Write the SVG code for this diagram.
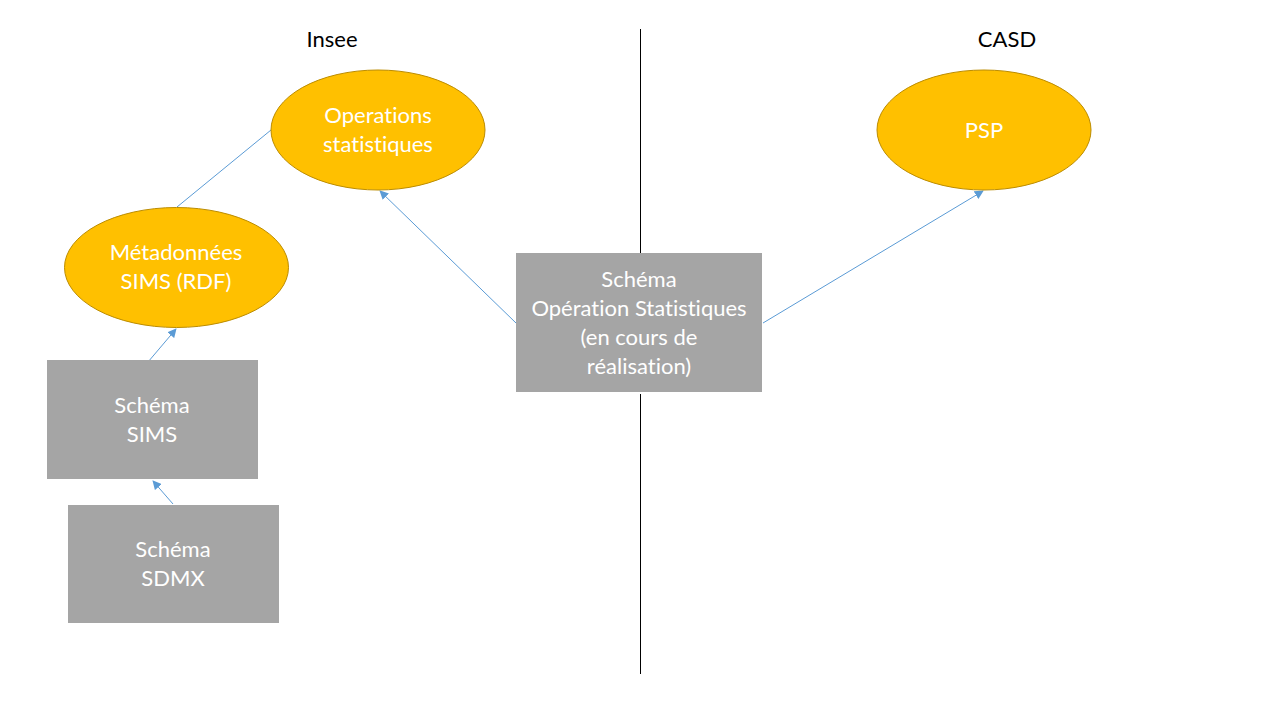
<svg xmlns="http://www.w3.org/2000/svg" width="1280" height="720" viewBox="0 0 1280 720">
<defs>
<style>
.ell{fill:#FFC000;stroke:#BC8C00;stroke-width:1}
.box{fill:#A5A5A5}
.t{font-family:Lato,"Open Sans","Liberation Sans",sans-serif;font-size:22px;fill:#FFFFFF;text-anchor:middle;font-variant-ligatures:none}
.h{font-family:Lato,"Open Sans","Liberation Sans",sans-serif;font-size:22px;fill:#000000;text-anchor:middle;font-variant-ligatures:none}
.c{stroke:#5B9BD5;stroke-width:1;fill:none}
</style>
<marker id="arr" viewBox="0 0 10 10" refX="9" refY="5" markerWidth="9" markerHeight="9" markerUnits="userSpaceOnUse" orient="auto">
<path d="M0,0 L10,5 L0,10 z" fill="#5B9BD5"/>
</marker>
</defs>
<rect width="1280" height="720" fill="#FFFFFF"/>
<g id="divider">
<line x1="640.5" y1="29" x2="640.5" y2="253" stroke="#000" stroke-width="1"/>
<line x1="640.5" y1="394" x2="640.5" y2="674" stroke="#000" stroke-width="1"/>
</g>
<g id="headers">
<text class="h" x="332" y="47">Insee</text>
<text class="h" x="1007" y="47">CASD</text>
</g>
<g id="connectors">
<line class="c" x1="177" y1="207" x2="271" y2="130"/>
<line class="c" x1="516" y1="323" x2="380" y2="191" marker-end="url(#arr)"/>
<line class="c" x1="763" y1="323" x2="983" y2="191" marker-end="url(#arr)"/>
<line class="c" x1="148" y1="362" x2="176" y2="329" marker-end="url(#arr)"/>
<line class="c" x1="173" y1="504" x2="153" y2="481" marker-end="url(#arr)"/>
</g>
<g id="operations">
<ellipse class="ell" cx="378" cy="130" rx="107" ry="60"/>
<text class="t" x="378" y="123">Operations</text>
<text class="t" x="378" y="152">statistiques</text>
</g>
<g id="metadonnees">
<ellipse class="ell" cx="176.5" cy="267.5" rx="112" ry="60"/>
<text class="t" x="176" y="260">Métadonnées</text>
<text class="t" x="176" y="289">SIMS (RDF)</text>
</g>
<g id="psp">
<ellipse class="ell" cx="984" cy="130" rx="107" ry="60"/>
<text class="t" x="984" y="138">PSP</text>
</g>
<g id="schema-sims">
<rect class="box" x="47" y="360" width="211" height="119"/>
<text class="t" x="152" y="413">Schéma</text>
<text class="t" x="152" y="442">SIMS</text>
</g>
<g id="schema-sdmx">
<rect class="box" x="68" y="505" width="211" height="118"/>
<text class="t" x="173" y="557">Schéma</text>
<text class="t" x="173" y="586">SDMX</text>
</g>
<g id="schema-operation">
<rect class="box" x="516" y="253" width="246" height="139"/>
<text class="t" x="639" y="287">Schéma</text>
<text class="t" x="639" y="316">Opération Statistiques</text>
<text class="t" x="639" y="345">(en cours de</text>
<text class="t" x="639" y="374">réalisation)</text>
</g>
</svg>
